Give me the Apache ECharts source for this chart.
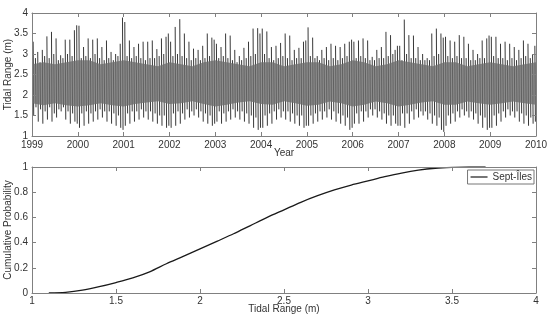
<!DOCTYPE html>
<html><head><meta charset="utf-8">
<script src="https://cdn.jsdelivr.net/npm/echarts@6/dist/echarts.min.js"></script>
<style>html,body{margin:0;padding:0;background:#fff}#c{width:549px;height:316px}</style>
</head><body><div id="c"></div>
<script>
// ---- data ----
const startYear = 1999;
const endYear = 2010;
const spikesPerYear = 20;
// tops of spring-tide spikes (m), 20 per year, 1999..2009
const spikeHi = [
 3.30,2.90,3.05,2.80,3.10,2.95,3.43,2.90,3.54,3.00,3.38,2.85,2.97,2.90,3.35,3.00,3.35,2.95,3.58,3.70,
 3.69,2.90,3.17,2.95,3.38,2.90,3.35,3.00,3.38,2.90,3.17,2.85,3.33,2.90,3.05,2.85,3.00,2.95,3.25,3.89,
 3.78,2.95,3.33,2.90,3.17,2.95,3.25,2.90,3.30,2.85,3.30,2.90,3.33,2.90,3.12,2.95,3.38,3.00,3.42,3.50,
 3.30,2.95,3.66,3.00,3.85,2.95,3.50,2.90,3.30,2.85,3.13,2.90,3.10,2.85,3.20,2.90,3.50,2.95,3.40,3.35,
 3.25,2.90,3.17,2.95,3.50,2.90,3.45,2.85,3.10,2.80,2.95,2.85,3.15,2.90,3.30,2.95,3.62,3.00,3.63,3.50,
 3.62,3.00,3.55,2.90,3.17,2.85,3.20,2.90,3.27,2.95,3.50,2.90,3.45,2.85,3.10,2.90,3.15,2.90,3.30,3.33,
 3.65,2.95,3.40,2.90,2.95,2.85,3.10,2.90,3.17,2.85,3.25,2.90,3.20,2.85,3.17,2.90,3.25,2.95,3.30,3.35,
 3.30,2.90,3.33,2.95,3.38,2.90,3.33,2.85,2.93,2.85,3.10,2.90,3.17,2.90,3.54,2.95,3.46,3.00,3.10,3.20,
 3.20,2.85,3.84,3.00,3.46,2.90,3.45,2.90,3.17,2.85,3.00,2.85,2.90,2.85,3.50,2.95,3.62,3.00,3.50,3.40,
 3.42,2.95,3.33,2.90,3.30,2.95,3.46,2.90,3.42,2.90,3.25,2.85,3.10,2.85,3.00,2.90,3.33,2.90,3.38,3.45,
 3.42,2.95,3.42,2.90,3.25,2.90,3.30,2.85,3.25,2.90,3.17,2.85,3.10,2.90,3.33,2.95,3.25,2.90,3.00,3.20
];
// bottoms of the same spikes (m)
const spikeLo = [
 1.50,1.70,1.35,1.65,1.30,1.60,1.40,1.70,1.35,1.55,1.45,1.65,1.60,1.70,1.40,1.60,1.30,1.55,1.35,1.30,
 1.20,1.55,1.25,1.60,1.30,1.55,1.35,1.60,1.40,1.65,1.45,1.60,1.35,1.60,1.30,1.55,1.25,1.50,1.20,1.15,
 1.25,1.55,1.30,1.60,1.35,1.60,1.40,1.65,1.45,1.60,1.40,1.60,1.35,1.55,1.30,1.50,1.25,1.50,1.20,1.25,
 1.20,1.55,1.25,1.60,1.30,1.55,1.40,1.65,1.45,1.60,1.50,1.65,1.45,1.60,1.35,1.55,1.30,1.50,1.25,1.30,
 1.35,1.60,1.30,1.55,1.35,1.60,1.40,1.65,1.45,1.60,1.40,1.60,1.35,1.55,1.30,1.50,1.20,1.45,1.15,1.20,
 1.20,1.50,1.25,1.55,1.30,1.60,1.40,1.65,1.45,1.60,1.40,1.60,1.35,1.55,1.30,1.50,1.25,1.50,1.20,1.25,
 1.25,1.50,1.30,1.55,1.35,1.60,1.40,1.60,1.45,1.65,1.40,1.60,1.35,1.55,1.30,1.50,1.25,1.45,1.15,1.20,
 1.30,1.55,1.30,1.60,1.35,1.60,1.45,1.65,1.50,1.65,1.45,1.60,1.40,1.55,1.30,1.50,1.25,1.50,1.30,1.25,
 1.25,1.55,1.20,1.55,1.30,1.60,1.40,1.65,1.45,1.60,1.50,1.60,1.40,1.55,1.30,1.50,1.25,1.45,1.15,1.10,
 1.25,1.50,1.30,1.55,1.35,1.60,1.45,1.65,1.50,1.60,1.45,1.60,1.40,1.55,1.30,1.50,1.20,1.45,1.15,1.20,
 1.20,1.50,1.25,1.55,1.35,1.60,1.45,1.65,1.50,1.60,1.45,1.60,1.35,1.55,1.30,1.50,1.25,1.45,1.30,1.35
];
// envelope of the dense neap-tide band, quarterly from 1999.0 to 2010.0
const bandHi = [2.75,2.80,2.75,2.80,2.85,2.85,2.75,2.80,2.85,2.80,2.75,2.70,2.80,2.75,2.70,2.80,2.85,2.80,2.75,2.70,2.80,2.80,2.70,2.75,2.80,2.80,2.70,2.75,2.85,2.80,2.70,2.75,2.85,2.80,2.75,2.70,2.80,2.80,2.70,2.75,2.80,2.75,2.70,2.75,2.80];
const bandLo = [1.80,1.75,1.80,1.75,1.72,1.75,1.80,1.75,1.72,1.78,1.82,1.85,1.78,1.80,1.85,1.78,1.72,1.76,1.82,1.85,1.78,1.76,1.85,1.80,1.74,1.76,1.84,1.80,1.72,1.76,1.84,1.80,1.72,1.76,1.82,1.85,1.76,1.76,1.84,1.80,1.76,1.80,1.84,1.80,1.76];
// cumulative distribution of tidal range
const cdfX = [1.1,1.2,1.3,1.4,1.5,1.6,1.7,1.8,1.9,2.0,2.1,2.2,2.3,2.4,2.5,2.6,2.7,2.8,2.9,3.0,3.1,3.2,3.3,3.4,3.5,3.6,3.7];
const cdfY = [0.0,0.005,0.022,0.05,0.083,0.12,0.168,0.232,0.29,0.35,0.41,0.47,0.535,0.6,0.66,0.72,0.772,0.818,0.857,0.89,0.923,0.952,0.975,0.99,0.997,1.0,1.0];
const legendName = 'Sept-Îles';

// ---- build ----
const spikeData = [];
for (let i = 0; i < spikeHi.length; i++) {
  const t = startYear + (i + 0.5) / spikesPerYear;
  spikeData.push([t, spikeHi[i]]);
  spikeData.push([t + 0.012, spikeLo[i]]);
  spikeData.push([t + 0.012, '-']);
}
const bandT = bandHi.map((v, i) => startYear + i * 0.25);
const cdfData = cdfX.map((x, i) => [x, cdfY[i]]);

const FONT = 'Liberation Sans';
const FS = 10;
const axisCol = '#808080';
const txtCol = '#333';
function axisBase(extra) {
  return Object.assign({
    axisLine: {show: true, onZero: false, lineStyle: {color: axisCol, width: 1}},
    axisTick: {show: true, inside: true, length: 4, lineStyle: {color: axisCol}},
    splitLine: {show: false},
    axisLabel: {color: txtCol, fontSize: FS, fontFamily: FONT, margin: 4},
    nameTextStyle: {color: txtCol, fontSize: FS, fontFamily: FONT},
    nameMoveOverlap: false,
    z: 10
  }, extra);
}
function mirror(extra) {
  return axisBase(Object.assign({axisLabel: {show: false}}, extra));
}

const chart = echarts.init(document.getElementById('c'), null, {renderer: 'canvas'});
chart.setOption({
  animation: false,
  backgroundColor: '#fff',
  grid: [
    {left: 32, right: 13, top: 13, height: 123, outerBoundsMode: 'none', containLabel: false},
    {left: 32, right: 13, top: 167, height: 126, outerBoundsMode: 'none', containLabel: false}
  ],
  legend: {
    data: [legendName], right: 15, top: 170, orient: 'vertical', icon: 'rect',
    backgroundColor: '#fff', borderColor: '#777', borderWidth: 1, borderRadius: 0,
    padding: [2, 2, 2, 3], itemWidth: 17, itemHeight: 1.2, itemGap: 0,
    textStyle: {color: txtCol, fontSize: FS, fontFamily: FONT}
  },
  xAxis: [
    axisBase({type: 'value', gridIndex: 0, min: startYear, max: endYear, interval: 1, name: 'Year',
      nameLocation: 'middle', nameGap: 12, axisLabel: {color: txtCol, fontSize: FS, fontFamily: FONT, margin: 4, formatter: v => String(v)}}),
    mirror({type: 'value', gridIndex: 0, min: startYear, max: endYear, interval: 1, position: 'top'}),
    axisBase({type: 'value', gridIndex: 1, min: 1, max: 4, interval: 0.5, name: 'Tidal Range (m)',
      nameLocation: 'middle', nameGap: 11, axisLabel: {color: txtCol, fontSize: FS, fontFamily: FONT, margin: 3}}),
    mirror({type: 'value', gridIndex: 1, min: 1, max: 4, interval: 0.5, position: 'top'})
  ],
  yAxis: [
    axisBase({type: 'value', gridIndex: 0, min: 1, max: 4, interval: 0.5, name: 'Tidal Range (m)',
      nameLocation: 'middle', nameGap: 19}),
    mirror({type: 'value', gridIndex: 0, min: 1, max: 4, interval: 0.5, position: 'right'}),
    axisBase({type: 'value', gridIndex: 1, min: 0, max: 1, interval: 0.2, name: 'Cumulative Probability',
      nameLocation: 'middle', nameGap: 19}),
    mirror({type: 'value', gridIndex: 1, min: 0, max: 1, interval: 0.2, position: 'right'})
  ],
  series: [
    {type: 'line', name: 'spikes', xAxisIndex: 0, yAxisIndex: 0, data: spikeData, symbol: 'none',
      connectNulls: false, lineStyle: {color: '#222', width: 0.9}, z: 1, silent: true},
    {type: 'custom', name: 'band', xAxisIndex: 0, yAxisIndex: 0, z: 2, silent: true, clip: true,
      data: [[bandT[0], bandLo[0]]],
      renderItem: function (params, api) {
        const pts = [];
        for (let i = 0; i < bandT.length; i++) pts.push(api.coord([bandT[i], bandHi[i]]));
        for (let i = bandT.length - 1; i >= 0; i--) pts.push(api.coord([bandT[i], bandLo[i]]));
        return {type: 'polygon', shape: {points: pts}, style: {fill: '#6c6c6c', opacity: 0.78}};
      }},
    {type: 'line', name: legendName, xAxisIndex: 2, yAxisIndex: 2, data: cdfData, symbol: 'none',
      smooth: 0.3, lineStyle: {color: '#1a1a1a', width: 1.3}, itemStyle: {color: '#1a1a1a'}, z: 3}
  ]
});
</script></body></html>
